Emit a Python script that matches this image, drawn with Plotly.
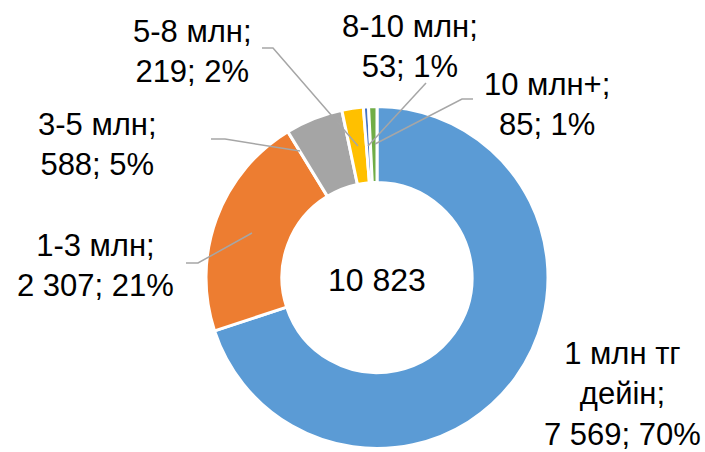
import plotly.graph_objects as go

categories = ["1 млн тг<br>дейін", "1-3 млн", "3-5 млн", "5-8 млн", "8-10 млн", "10 млн+"]
values = [7569, 2307, 588, 219, 53, 85]
percents = [70, 21, 5, 2, 1, 1]
total = 10823
colors = ["#5B9BD5", "#ED7D31", "#A5A5A5", "#FFC000", "#4472C4", "#70AD47"]

W, H = 705, 452
FONT = "Liberation Sans, Arial, sans-serif"


def fmt(n):
    return f"{n:,}".replace(",", " ")


def px(x, y):
    return x / W, 1 - y / H


# label centres (px) and leader lines (px points)
label_pos = [(622, 394), (95, 265), (97, 144), (192, 51), (410, 46), (547, 104)]
leaders = [
    None,
    [(186, 263), (198, 263), (252, 233)],
    [(211, 139), (225, 139), (300, 151)],
    [(262, 48), (273, 48), (358, 146)],
    [(426, 83), (368, 146)],
    [(473, 99), (462, 99), (375, 144)],
]

fig = go.Figure(
    go.Pie(
        values=values,
        labels=[c.replace("<br>", " ") for c in categories],
        marker=dict(colors=colors, line=dict(color="white", width=3)),
        hole=0.556,
        sort=False,
        direction="clockwise",
        rotation=0,
        textinfo="none",
        showlegend=False,
        domain=dict(x=[(377 - 171) / W, (377 + 171) / W], y=[1 - 448.5 / H, 1 - 106.5 / H]),
    )
)

annotations = []
for cat, val, pct, (lx, ly) in zip(categories, values, percents, label_pos):
    x, y = px(lx, ly)
    annotations.append(
        dict(
            x=x, y=y, xref="paper", yref="paper",
            text=f"{cat};<br>{fmt(val)}; {pct}%",
            showarrow=False, xanchor="center", yanchor="middle",
            font=dict(family=FONT, size=31, color="#000000"),
        )
    )

x, y = px(377, 280)
annotations.append(
    dict(
        x=x, y=y, xref="paper", yref="paper", text=fmt(total),
        showarrow=False, font=dict(family=FONT, size=32, color="#000000"),
    )
)

shapes = []
for pts in leaders:
    if not pts:
        continue
    path = "M " + " L ".join(f"{px(a, b)[0]},{px(a, b)[1]}" for a, b in pts)
    shapes.append(
        dict(type="path", path=path, xref="paper", yref="paper",
             line=dict(color="#A6A6A6", width=1.5))
    )

fig.update_layout(
    width=W, height=H,
    margin=dict(l=0, r=0, t=0, b=0),
    paper_bgcolor="white",
    annotations=annotations,
    shapes=shapes,
)

fig.write_html(
    "out.html",
    config={"displayModeBar": False},
    post_script="document.body.style.margin='0';",
)
